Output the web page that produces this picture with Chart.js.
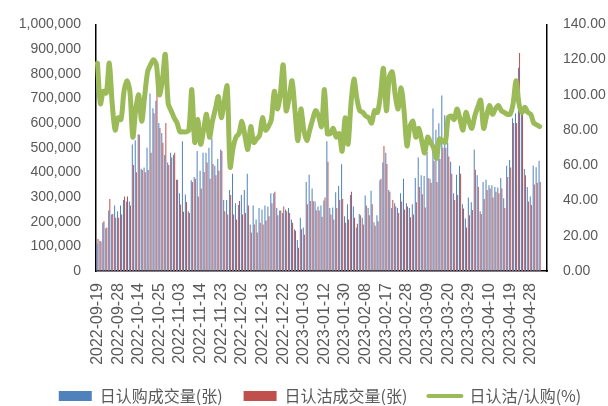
<!DOCTYPE html>
<html><head><meta charset="utf-8">
<script src="https://cdn.jsdelivr.net/npm/chart.js@4.4.1/dist/chart.umd.min.js"></script>
<style>html,body{margin:0;padding:0;background:#fff}</style>
</head><body>
<canvas id="c" width="608" height="406"></canvas>
<script>
const dates = [
'2022-09-19','2022-09-20','2022-09-21','2022-09-22','2022-09-23','2022-09-26','2022-09-27','2022-09-28','2022-09-29','2022-09-30',
'2022-10-10','2022-10-11','2022-10-12','2022-10-13','2022-10-14','2022-10-17','2022-10-18','2022-10-19','2022-10-20','2022-10-21','2022-10-24','2022-10-25','2022-10-26','2022-10-27','2022-10-28','2022-10-31',
'2022-11-01','2022-11-02','2022-11-03','2022-11-04','2022-11-07','2022-11-08','2022-11-09','2022-11-10','2022-11-11','2022-11-14','2022-11-15','2022-11-16','2022-11-17','2022-11-18','2022-11-21','2022-11-22','2022-11-23','2022-11-24','2022-11-25','2022-11-28','2022-11-29','2022-11-30',
'2022-12-01','2022-12-02','2022-12-05','2022-12-06','2022-12-07','2022-12-08','2022-12-09','2022-12-12','2022-12-13','2022-12-14','2022-12-15','2022-12-16','2022-12-19','2022-12-20','2022-12-21','2022-12-22','2022-12-23','2022-12-26','2022-12-27','2022-12-28','2022-12-29','2022-12-30',
'2023-01-03','2023-01-04','2023-01-05','2023-01-06','2023-01-09','2023-01-10','2023-01-11','2023-01-12','2023-01-13','2023-01-16','2023-01-17','2023-01-18','2023-01-19','2023-01-20','2023-01-30','2023-01-31',
'2023-02-01','2023-02-02','2023-02-03','2023-02-06','2023-02-07','2023-02-08','2023-02-09','2023-02-10','2023-02-13','2023-02-14','2023-02-15','2023-02-16','2023-02-17','2023-02-20','2023-02-21','2023-02-22','2023-02-23','2023-02-24','2023-02-27','2023-02-28',
'2023-03-01','2023-03-02','2023-03-03','2023-03-06','2023-03-07','2023-03-08','2023-03-09','2023-03-10','2023-03-13','2023-03-14','2023-03-15','2023-03-16','2023-03-17','2023-03-20','2023-03-21','2023-03-22','2023-03-23','2023-03-24','2023-03-27','2023-03-28','2023-03-29','2023-03-30','2023-03-31',
'2023-04-03','2023-04-04','2023-04-06','2023-04-07','2023-04-10','2023-04-11','2023-04-12','2023-04-13','2023-04-14','2023-04-17','2023-04-18','2023-04-19','2023-04-20','2023-04-21','2023-04-24','2023-04-25','2023-04-26','2023-04-27','2023-04-28',
'2023-05-04','2023-05-05','2023-05-08','2023-05-09','2023-05-10'
];

const callVolume = [
110000,123000,196000,173000,245000,229000,266000,242000,266000,288000,
282000,282000,513000,530000,555000,415000,420000,500000,720000,660000,
690000,600000,560000,470000,440000,480000,470000,370000,315000,526000,
310000,242000,368000,381000,487000,407000,480000,480000,500000,540000,
427000,454000,493000,288000,288000,328000,394000,275000,268000,308000,
328000,394000,189000,266000,209000,255000,249000,266000,262000,315000,
315000,255000,245000,235000,249000,255000,209000,169000,126000,216000,
176000,361000,390000,335000,282000,262000,266000,286000,526000,255000,
258000,319000,345000,433000,222000,271000,308000,262000,176000,231000,
216000,306000,255000,325000,198000,226000,368000,440000,480000,328000,
255000,275000,255000,315000,374000,275000,255000,271000,377000,460000,
388000,385000,483000,374000,659000,573000,599000,712000,632000,520000,
443000,315000,390000,427000,271000,213000,298000,279000,493000,388000,
242000,361000,370000,348000,348000,341000,339000,377000,295000,427000,
450000,619000,639000,824000,639000,414000,341000,302000,427000,421000,
447000
];

const putVolume = [
130000,120000,202000,176000,292000,231000,216000,216000,229000,302000,
302000,266000,430000,400000,553000,410000,400000,410000,480000,640000,
830000,580000,520000,600000,430000,460000,480000,370000,270000,240000,
280000,235000,361000,374000,302000,335000,401000,440000,374000,434000,
388000,407000,487000,242000,229000,308000,229000,209000,284000,229000,
235000,266000,156000,189000,156000,196000,189000,205000,222000,275000,
321000,226000,245000,262000,242000,235000,196000,163000,94000,169000,
147000,271000,284000,284000,246000,245000,220000,298000,443000,229000,
209000,255000,288000,292000,196000,209000,321000,216000,192000,226000,
189000,266000,226000,271000,183000,202000,374000,507000,434000,321000,
288000,262000,235000,282000,249000,262000,218000,229000,279000,341000,
311000,258000,377000,358000,447000,361000,454000,500000,500000,464000,
394000,288000,308000,394000,253000,176000,226000,247000,411000,341000,
231000,292000,328000,335000,298000,321000,315000,335000,255000,381000,
420000,600000,600000,884000,639000,388000,282000,268000,351000,358000,
361000
];

const putCallRatio = [
118,95,102,101,118,95,80,87,86,102,
108,102,76,92,100,85,99,113,117,120,
117,100,108,123,95,91,87,84,79,79,
79,80,103,73,86,72,80,89,76,85,
92,99,87,96,105,59,70,76,78,85,
77,69,82,73,75,77,87,80,82,86,
102,92,100,117,91,98,108,91,74,92,
80,74,80,86,91,88,82,103,78,78,
81,76,78,68,87,72,95,109,98,91,
90,88,87,84,91,90,100,115,91,110,
113,100,92,104,91,71,82,85,76,81,
74,67,76,73,70,64,75,74,73,87,
88,86,92,86,80,90,85,81,88,93,
97,81,88,94,89,92,94,91,90,89,
89,95,108,95,90,93,90,89,84,83,82
];

const seriesNames = ['日认购成交量(张)', '日认沽成交量(张)', '日认沽/认购(%)'];
const volumeAxis = { min: 0, max: 1000000, step: 100000 };
const ratioAxis = { min: 0, max: 140, step: 20 };
const labelEvery = 7;

const grey = '#595959';

const legendShift = {
  id: 'legendShift',
  afterLayout(chart) {
    if (chart.legend) { chart.legend.left += 16; chart.legend.right += 16; }
  }
};

new Chart(document.getElementById('c'), {
  type: 'bar',
  data: {
    labels: dates,
    datasets: [
      { type: 'bar', label: seriesNames[0], data: callVolume, backgroundColor: '#4F81BD', borderWidth: 0,
        yAxisID: 'y', order: 1, categoryPercentage: 0.75, barPercentage: 0.9 },
      { type: 'bar', label: seriesNames[1], data: putVolume, backgroundColor: '#C0504D', borderWidth: 0,
        yAxisID: 'y', order: 1, categoryPercentage: 0.75, barPercentage: 0.9 },
      { type: 'line', label: seriesNames[2], data: putCallRatio, borderColor: '#9BBB59', backgroundColor: '#9BBB59',
        borderWidth: 5, pointRadius: 0, tension: 0.3, yAxisID: 'y1', order: 0,
        borderCapStyle: 'round', borderJoinStyle: 'round' }
    ]
  },
  plugins: [legendShift],
  options: {
    responsive: false,
    animation: false,
    layout: { padding: { left: 0, right: 0, top: 19, bottom: -8 } },
    plugins: {
      tooltip: { enabled: false },
      legend: {
        position: 'bottom',
        labels: {
          color: grey,
          font: { family: '"Noto Sans CJK SC", "Noto Sans", sans-serif', size: 16 },
          usePointStyle: true,
          pointStyleWidth: 33,
          boxHeight: 10,
          padding: 21,
          generateLabels(chart) {
            const items = Chart.defaults.plugins.legend.labels.generateLabels(chart);
            items.sort((a, b) => a.datasetIndex - b.datasetIndex);
            items.forEach(it => {
              const ds = chart.data.datasets[it.datasetIndex];
              if (ds.type === 'line') {
                it.pointStyle = 'line'; it.lineWidth = 4; it.strokeStyle = '#9BBB59'; it.lineCap = 'round';
              } else {
                it.pointStyle = 'rect'; it.lineWidth = 0;
              }
            });
            return items;
          }
        }
      }
    },
    scales: {
      x: {
        offset: true,
        grid: { display: false, drawTicks: false },
        border: { color: '#000', width: 1.5 },
        ticks: {
          autoSkip: false, minRotation: 90, maxRotation: 90, padding: 12, color: grey,
          font: { family: '"Liberation Sans", Arial, sans-serif', size: 16 },
          callback: function (v, i) { return i % labelEvery === 0 ? dates[i] : ''; }
        },
        afterFit(s) { s.height = 96; }
      },
      y: {
        position: 'left',
        min: volumeAxis.min, max: volumeAxis.max,
        grid: { display: false, drawTicks: false },
        border: { color: '#000', width: 1.5 },
        ticks: {
          stepSize: volumeAxis.step, padding: 15, color: grey,
          font: { family: '"Liberation Sans", Arial, sans-serif', size: 14 },
          callback: v => v.toLocaleString('en-US')
        },
        afterFit(s) { s.width = 96; }
      },
      y1: {
        position: 'right',
        min: ratioAxis.min, max: ratioAxis.max,
        grid: { display: false, drawTicks: false },
        border: { color: '#000', width: 1.5 },
        ticks: {
          stepSize: ratioAxis.step, padding: 16, color: grey,
          font: { family: '"Liberation Sans", Arial, sans-serif', size: 14 },
          callback: v => Number(v).toFixed(2)
        },
        afterFit(s) { s.width = 61; }
      }
    }
  }
});
</script>
</body></html>
